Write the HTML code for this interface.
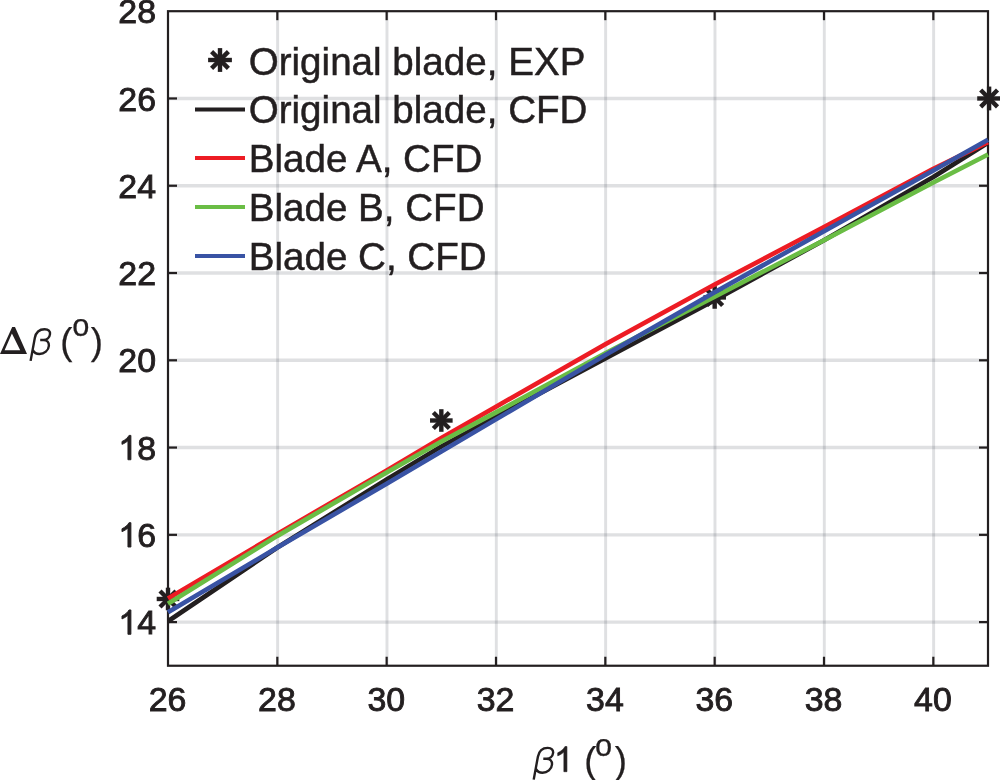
<!DOCTYPE html>
<html><head><meta charset="utf-8"><title>chart</title>
<style>
html,body{margin:0;padding:0;background:#fff;}
body{width:1000px;height:780px;overflow:hidden;font-family:"Liberation Sans",sans-serif;}
svg{display:block;will-change:transform;}
svg{stroke-width:0.6px;}
text{font-family:"Liberation Sans",sans-serif;fill:#231f20;stroke:#231f20;}
text.thin{stroke:#fff;stroke-width:0.5px;font-style:italic;}
text.lab{stroke-width:0.25px;}
</style></head><body>
<svg width="1000" height="780" viewBox="0 0 1000 780">
<rect x="0" y="0" width="1000" height="780" fill="#ffffff"/>
<g stroke="rgb(40,45,60)" stroke-opacity="0.15" stroke-width="2.9">
<line x1="277.63" y1="11.20" x2="277.63" y2="665.74"/>
<line x1="386.97" y1="11.20" x2="386.97" y2="665.74"/>
<line x1="496.30" y1="11.20" x2="496.30" y2="665.74"/>
<line x1="605.63" y1="11.20" x2="605.63" y2="665.74"/>
<line x1="714.97" y1="11.20" x2="714.97" y2="665.74"/>
<line x1="824.30" y1="11.20" x2="824.30" y2="665.74"/>
<line x1="933.63" y1="11.20" x2="933.63" y2="665.74"/>
</g>
<g stroke="rgb(40,45,60)" stroke-opacity="0.15" stroke-width="3.4">
<line x1="168.00" y1="622.10" x2="988.00" y2="622.10"/>
<line x1="168.00" y1="534.83" x2="988.00" y2="534.83"/>
<line x1="168.00" y1="447.56" x2="988.00" y2="447.56"/>
<line x1="168.00" y1="360.29" x2="988.00" y2="360.29"/>
<line x1="168.00" y1="273.01" x2="988.00" y2="273.01"/>
<line x1="168.00" y1="185.74" x2="988.00" y2="185.74"/>
<line x1="168.00" y1="98.47" x2="988.00" y2="98.47"/>
</g>
<rect x="168.00" y="11.20" width="820.00" height="654.54" fill="none" stroke="#231f20" stroke-width="2.2"/>
<g stroke="#231f20" stroke-width="2.2">
<line x1="277.33" y1="665.74" x2="277.33" y2="656.74"/>
<line x1="277.33" y1="11.20" x2="277.33" y2="20.20"/>
<line x1="386.67" y1="665.74" x2="386.67" y2="656.74"/>
<line x1="386.67" y1="11.20" x2="386.67" y2="20.20"/>
<line x1="496.00" y1="665.74" x2="496.00" y2="656.74"/>
<line x1="496.00" y1="11.20" x2="496.00" y2="20.20"/>
<line x1="605.33" y1="665.74" x2="605.33" y2="656.74"/>
<line x1="605.33" y1="11.20" x2="605.33" y2="20.20"/>
<line x1="714.67" y1="665.74" x2="714.67" y2="656.74"/>
<line x1="714.67" y1="11.20" x2="714.67" y2="20.20"/>
<line x1="824.00" y1="665.74" x2="824.00" y2="656.74"/>
<line x1="824.00" y1="11.20" x2="824.00" y2="20.20"/>
<line x1="933.33" y1="665.74" x2="933.33" y2="656.74"/>
<line x1="933.33" y1="11.20" x2="933.33" y2="20.20"/>
<line x1="168.00" y1="622.10" x2="177.00" y2="622.10"/>
<line x1="988.00" y1="622.10" x2="979.00" y2="622.10"/>
<line x1="168.00" y1="534.83" x2="177.00" y2="534.83"/>
<line x1="988.00" y1="534.83" x2="979.00" y2="534.83"/>
<line x1="168.00" y1="447.56" x2="177.00" y2="447.56"/>
<line x1="988.00" y1="447.56" x2="979.00" y2="447.56"/>
<line x1="168.00" y1="360.29" x2="177.00" y2="360.29"/>
<line x1="988.00" y1="360.29" x2="979.00" y2="360.29"/>
<line x1="168.00" y1="273.01" x2="177.00" y2="273.01"/>
<line x1="988.00" y1="273.01" x2="979.00" y2="273.01"/>
<line x1="168.00" y1="185.74" x2="177.00" y2="185.74"/>
<line x1="988.00" y1="185.74" x2="979.00" y2="185.74"/>
<line x1="168.00" y1="98.47" x2="177.00" y2="98.47"/>
<line x1="988.00" y1="98.47" x2="979.00" y2="98.47"/>
</g>
<g stroke="#231f20" stroke-width="4.4"><line x1="156.70" y1="598.97" x2="179.30" y2="598.97"/><line x1="160.01" y1="590.98" x2="175.99" y2="606.96"/><line x1="168.00" y1="587.67" x2="168.00" y2="610.27"/><line x1="175.99" y1="590.98" x2="160.01" y2="606.96"/></g>
<g stroke="#231f20" stroke-width="4.4"><line x1="430.03" y1="420.50" x2="452.63" y2="420.50"/><line x1="433.34" y1="412.51" x2="449.32" y2="428.49"/><line x1="441.33" y1="409.20" x2="441.33" y2="431.80"/><line x1="449.32" y1="412.51" x2="433.34" y2="428.49"/></g>
<g stroke="#231f20" stroke-width="4.4"><line x1="703.37" y1="297.45" x2="725.97" y2="297.45"/><line x1="706.68" y1="289.46" x2="722.66" y2="305.44"/><line x1="714.67" y1="286.15" x2="714.67" y2="308.75"/><line x1="722.66" y1="289.46" x2="706.68" y2="305.44"/></g>
<g stroke="#231f20" stroke-width="4.4"><line x1="977.20" y1="98.47" x2="1001.00" y2="98.47"/><line x1="980.69" y1="90.06" x2="997.51" y2="106.89"/><line x1="989.10" y1="86.57" x2="989.10" y2="110.37"/><line x1="997.51" y1="90.06" x2="980.69" y2="106.89"/></g>
<defs><clipPath id="c"><rect x="166.90" y="11.20" width="822.20" height="654.54"/></clipPath></defs>
<g fill="none" stroke-width="4.6" stroke-linejoin="round" clip-path="url(#c)">
<polyline stroke="#231f20" points="168.00,621.23 277.33,547.48 386.67,479.41 441.33,446.51 496.00,416.75 605.33,358.54 714.67,300.20 824.00,240.20 933.33,177.02 988.00,142.76"/>
<polyline stroke="#ed1c24" points="168.00,598.54 277.33,533.96 386.67,470.38 441.33,437.96 496.00,406.71 605.33,344.14 714.67,284.49 824.00,226.98 933.33,168.72 988.00,142.11"/>
<polyline stroke="#6abd45" points="168.00,603.77 277.33,535.92 386.67,472.60 441.33,441.45 496.00,412.39 605.33,353.30 714.67,296.71 824.00,240.20 933.33,182.43 988.00,154.50"/>
<polyline stroke="#3953a4" points="168.00,612.28 277.33,547.48 386.67,483.77 441.33,451.40 496.00,419.37 605.33,355.05 714.67,292.34 824.00,231.21 933.33,170.47 988.00,139.66"/>
</g>
<g font-size="33.9" stroke-width="0.9">
<text x="167.60" y="711.2" text-anchor="middle">26</text>
<text x="276.93" y="711.2" text-anchor="middle">28</text>
<text x="386.27" y="711.2" text-anchor="middle">30</text>
<text x="495.60" y="711.2" text-anchor="middle">32</text>
<text x="604.93" y="711.2" text-anchor="middle">34</text>
<text x="714.27" y="711.2" text-anchor="middle">36</text>
<text x="823.60" y="711.2" text-anchor="middle">38</text>
<text x="932.93" y="711.2" text-anchor="middle">40</text>
<path d="M763,0 L583,0 L583,1147 Q518,1085 412.5,1023 Q307,961 223,930 L223,1104 Q374,1175 487,1276 Q600,1377 647,1472 L763,1472 Z" transform="translate(118.29,634.30) scale(0.01655,-0.01655)" fill="#231f20" stroke="#231f20" stroke-width="54.4"/>
<text x="156.00" y="634.30" text-anchor="end">4</text>
<path d="M763,0 L583,0 L583,1147 Q518,1085 412.5,1023 Q307,961 223,930 L223,1104 Q374,1175 487,1276 Q600,1377 647,1472 L763,1472 Z" transform="translate(118.29,547.03) scale(0.01655,-0.01655)" fill="#231f20" stroke="#231f20" stroke-width="54.4"/>
<text x="156.00" y="547.03" text-anchor="end">6</text>
<path d="M763,0 L583,0 L583,1147 Q518,1085 412.5,1023 Q307,961 223,930 L223,1104 Q374,1175 487,1276 Q600,1377 647,1472 L763,1472 Z" transform="translate(118.29,459.76) scale(0.01655,-0.01655)" fill="#231f20" stroke="#231f20" stroke-width="54.4"/>
<text x="156.00" y="459.76" text-anchor="end">8</text>
<text x="156.00" y="372.49" text-anchor="end">20</text>
<text x="156.00" y="285.21" text-anchor="end">22</text>
<text x="156.00" y="197.94" text-anchor="end">24</text>
<text x="156.00" y="110.67" text-anchor="end">26</text>
<text x="156.00" y="23.40" text-anchor="end">28</text>
</g>
<path d="M0,354 L12.2,327 L15,327 L27,354 Z M4.6,350.2 L20.2,350.2 L11.9,333.6 Z" fill="#231f20" fill-rule="evenodd"/>
<path d="M30.6,360.9 L34.8,338.0 C36.0,331.8 40.0,329.2 44.6,329.2 C48.6,329.2 50.3,331.2 50.0,334.2 C49.6,337.8 46.8,340.0 43.5,340.0 L40.2,340.0 M43.5,340.0 C47.0,340.0 49.1,342.2 48.9,345.8 C48.6,350.6 44.2,354.0 39.4,354.0 C36.5,354.0 34.2,352.8 33.0,350.4" transform="translate(0.00,0.00)" fill="none" stroke="#231f20" stroke-width="2.4" stroke-linejoin="round"/>
<text x="60.3" y="353.6" font-size="36.5" class="lab">(</text>
<text x="72.2" y="335.7" font-size="30.8" class="lab">o</text>
<text x="90.8" y="353.6" font-size="36.5" class="lab">)</text>
<path d="M30.6,360.9 L34.8,338.0 C36.0,331.8 40.0,329.2 44.6,329.2 C48.6,329.2 50.3,331.2 50.0,334.2 C49.6,337.8 46.8,340.0 43.5,340.0 L40.2,340.0 M43.5,340.0 C47.0,340.0 49.1,342.2 48.9,345.8 C48.6,350.6 44.2,354.0 39.4,354.0 C36.5,354.0 34.2,352.8 33.0,350.4" transform="translate(503.10,418.70)" fill="none" stroke="#231f20" stroke-width="2.4" stroke-linejoin="round"/>
<text x="584.2" y="772.8" font-size="36.5" class="lab">(</text>
<text x="595.0" y="755.7" font-size="30.8" class="lab">o</text>
<text x="614.8" y="772.8" font-size="36.5" class="lab">)</text>
<path d="M763,0 L583,0 L583,1147 Q518,1085 412.5,1023 Q307,961 223,930 L223,1104 Q374,1175 487,1276 Q600,1377 647,1472 L763,1472 Z" transform="translate(553.90,771.70) scale(0.01709,-0.01709)" fill="#231f20" stroke="#231f20" stroke-width="35.1"/>
<g stroke="#231f20" stroke-width="4.4"><line x1="208.10" y1="60.00" x2="231.90" y2="60.00"/><line x1="211.59" y1="51.59" x2="228.41" y2="68.41"/><line x1="220.00" y1="48.10" x2="220.00" y2="71.90"/><line x1="228.41" y1="51.59" x2="211.59" y2="68.41"/></g>
<text x="248.7" y="74.70" font-size="38.6" stroke-width="0.5">Original blade, EXP</text>
<line x1="195" y1="109.5" x2="245" y2="109.5" stroke="#231f20" stroke-width="4"/>
<text x="248.7" y="123.20" font-size="38.6" stroke-width="0.5">Original blade, CFD</text>
<line x1="195" y1="158" x2="245" y2="158" stroke="#ed1c24" stroke-width="4"/>
<text x="248.7" y="171.70" font-size="38.6" stroke-width="0.5">Blade A, CFD</text>
<line x1="195" y1="207" x2="245" y2="207" stroke="#6abd45" stroke-width="4"/>
<text x="248.7" y="220.70" font-size="38.6" stroke-width="0.5">Blade B, CFD</text>
<line x1="195" y1="256" x2="245" y2="256" stroke="#3953a4" stroke-width="4"/>
<text x="248.7" y="269.70" font-size="38.6" stroke-width="0.5">Blade C, CFD</text>
</svg>
</body></html>
